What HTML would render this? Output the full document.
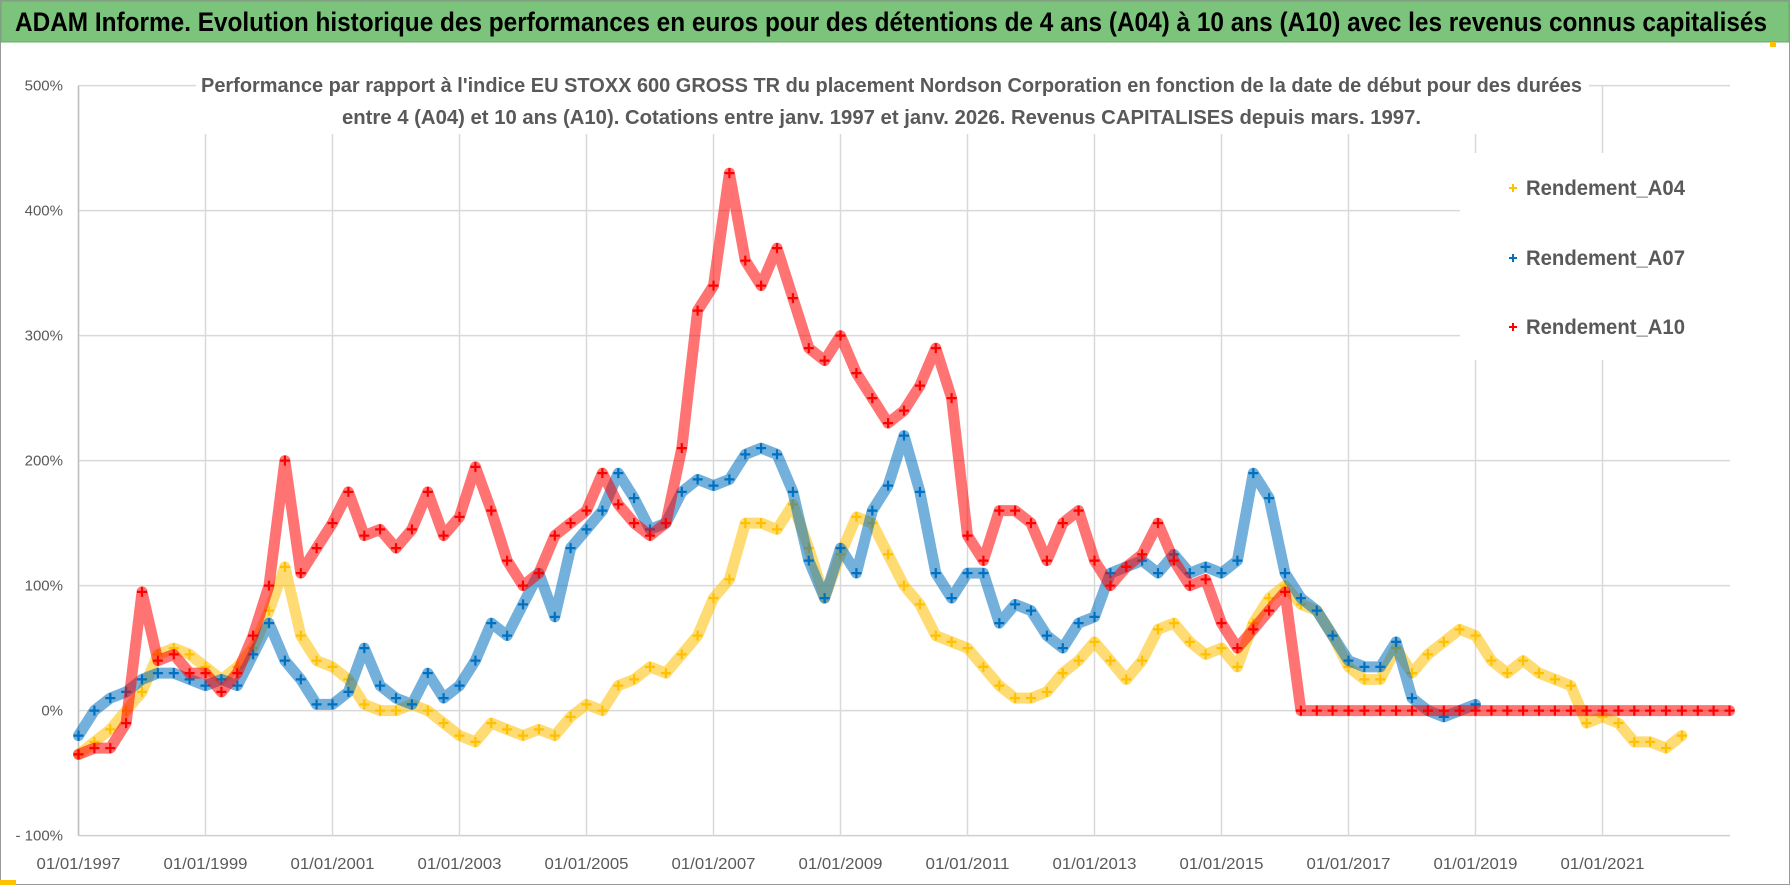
<!DOCTYPE html>
<html><head><meta charset="utf-8"><style>
html,body{margin:0;padding:0;background:#fff;}
svg{display:block;font-family:"Liberation Sans",sans-serif;}
</style></head><body>
<svg id="chart" width="1790" height="886" viewBox="0 0 1790 886" xmlns="http://www.w3.org/2000/svg">
<rect x="0" y="0" width="1790" height="886" fill="#fff"/>
<rect x="0.5" y="0.5" width="1789" height="884" fill="none" stroke="#9a9a9a"/>
<rect x="1" y="1" width="1788" height="41" fill="#7cc47c" stroke="#6aa86a"/>
<text x="15" y="31" font-size="27" font-weight="bold" fill="#000" textLength="1752" lengthAdjust="spacingAndGlyphs">ADAM Informe. Evolution historique des performances en euros pour des détentions de 4 ans (A04) à 10 ans (A10) avec les revenus connus capitalisés</text>
<rect x="0" y="880" width="16" height="5" fill="#ffc000"/>
<rect x="1770" y="42" width="6" height="5" fill="#ffc000"/>
<g id="grid"></g>
<g id="series"></g>
<rect x="196" y="60" width="1393" height="74" fill="#fff"/>
<text x="201" y="92" font-size="20" font-weight="bold" fill="#595959" textLength="1381" lengthAdjust="spacingAndGlyphs">Performance par rapport à l'indice EU STOXX 600 GROSS TR  du placement Nordson Corporation en fonction de la date de début pour des durées</text>
<text x="342" y="124" font-size="20" font-weight="bold" fill="#595959" textLength="1079" lengthAdjust="spacingAndGlyphs">entre 4 (A04) et 10 ans (A10). Cotations entre janv. 1997 et janv. 2026. Revenus CAPITALISES depuis mars. 1997.</text>
<g>
<rect x="1460" y="153" width="272" height="207" fill="#fff"/>
<g><path d="M1509 188h8M1513 184v8" stroke="#ffc000" stroke-width="2"/><text x="1526" y="195" font-size="21" font-weight="bold" fill="#595959" textLength="159" lengthAdjust="spacingAndGlyphs">Rendement_A04</text></g>
<g><path d="M1509 258h8M1513 254v8" stroke="#0070c0" stroke-width="2"/><text x="1526" y="265" font-size="21" font-weight="bold" fill="#595959" textLength="159" lengthAdjust="spacingAndGlyphs">Rendement_A07</text></g>
<g><path d="M1509 327h8M1513 323v8" stroke="#ff0000" stroke-width="2"/><text x="1526" y="334" font-size="21" font-weight="bold" fill="#595959" textLength="159" lengthAdjust="spacingAndGlyphs">Rendement_A10</text></g>
</g>
<g id="axes"></g>
</svg>
<script>
// ---- data (quarterly, starting 1997.0) ----
const yTicks = [-100, 0, 100, 200, 300, 400, 500];
const yTickLabels = ["- 100%", "0%", "100%", "200%", "300%", "400%", "500%"];
const xTickYears = [1997, 1999, 2001, 2003, 2005, 2007, 2009, 2011, 2013, 2015, 2017, 2019, 2021];
const xTickLabels = ["01/01/1997","01/01/1999","01/01/2001","01/01/2003","01/01/2005","01/01/2007","01/01/2009","01/01/2011","01/01/2013","01/01/2015","01/01/2017","01/01/2019","01/01/2021"];
const startYear = 1997;
const stepYears = 0.25;
const seriesNames = ["Rendement_A04", "Rendement_A07", "Rendement_A10"];
const valuesA04 = [
 -35,-25,-15,0, 15,45,50,45, 35,25,35,50, 80,115,60,40, 35,25,5,0, 0,5,0,-10,
 -20,-25,-10,-15, -20,-15,-20,-5, 5,0,20,25, 35,30,45,60, 90,105,150,150,
 145,165,130,90, 125,155,150,125, 100,85,60,55, 50,35,20,10, 10,15,30,40,
 55,40,25,40, 65,70,55,45, 50,35,70,90, 100,85,80,60, 35,25,25,50,
 30,45,55,65, 60,40,30,40, 30,25,20,-10, -5,-10,-25,-25, -30,-20];
const valuesA07 = [
 -20,0,10,15, 25,30,30,25, 20,25,20,45, 70,40,25,5, 5,15,50,20, 10,5,30,10,
 20,40,70,60, 85,110,75,130, 145,160,190,170, 145,150,175,185, 180,185,205,210,
 205,175,120,90, 130,110,160,180, 220,175,110,90, 110,110,70,85, 80,60,50,70,
 75,110,115,120, 110,125,110,115, 110,120,190,170, 110,90,80,60, 40,35,35,55,
 10,0,-5,0, 5];
const valuesA10 = [
 -35,-30,-30,-10, 95,40,45,30, 30,15,30,60, 100,200,110,130, 150,175,140,145,
 130,145,175,140, 155,195,160,120, 100,110,140,150, 160,190,165,150,
 140,150,210,320, 340,430,360,340, 370,330,290,280, 300,270,250,230,
 240,260,290,250, 140,120,160,160, 150,120,150,160, 120,100,115,125,
 150,120,100,105, 70,50,65,80, 95,0,0,0, 0,0,0,0, 0,0,0,0, 0,0,0,0,
 0,0,0,0, 0,0,0,0, 0,0,0,0, 0];
const seriesColors = ["#ffc000", "#0070c0", "#ff0000"];

// ---- scales ----
const X0 = 78.5, PX_PER_YEAR = 63.5, Y0 = 710.6, PX_PER_PCT = 1.25;
const xRight = 1730;
function xScale(year){ return X0 + (year - startYear) * PX_PER_YEAR; }
function yScale(v){ return Y0 - v * PX_PER_PCT; }
const NS = "http://www.w3.org/2000/svg";
function mk(tag, attrs, parent){ const e = document.createElementNS(NS, tag); for (const k in attrs) e.setAttribute(k, attrs[k]); parent.appendChild(e); return e; }

const grid = document.getElementById("grid");
const axes = document.getElementById("axes");
yTicks.forEach((t, i) => {
  const y = yScale(t);
  const ln = mk("line", {x1: X0, x2: xRight, y1: y, y2: y, stroke: t === -100 ? "#cfcfcf" : "#d9d9d9", "stroke-width": 1.5}, grid);
  
  
  const tx = mk("text", {x: 63, y: y + 5, "font-size": 15, fill: "#595959", "text-anchor": "end"}, axes);
  tx.textContent = yTickLabels[i];
  
  
});
xTickYears.forEach((yr, i) => {
  const x = xScale(yr);
  const ln = mk("line", {x1: x, x2: x, y1: yScale(500), y2: yScale(-100), stroke: "#d9d9d9", "stroke-width": 1.5}, grid);
  
  
  const tx = mk("text", {x: x, y: 869, "font-size": 16, fill: "#595959", "text-anchor": "middle", textLength: 84, lengthAdjust: "spacingAndGlyphs"}, axes);
  tx.textContent = xTickLabels[i];
  
  
});
const axL = mk("line", {x1: X0, x2: X0, y1: yScale(500), y2: yScale(-100), stroke: "#bfbfbf", "stroke-width": 1.5}, grid);



const layer = document.getElementById("series");
[valuesA04, valuesA07, valuesA10].forEach((vals, si) => {
  const g = mk("g", {}, layer);
  
  
  const pts = vals.map((v, i) => xScale(startYear + i * stepYears).toFixed(1) + "," + yScale(v).toFixed(1));
  const band = mk("polyline", {points: pts.join(" "), fill: "none", stroke: seriesColors[si], "stroke-width": 11, "stroke-opacity": 0.55, "stroke-linejoin": "round", "stroke-linecap": "round"}, g);
  
  
  let d = "";
  vals.forEach((v, i) => {
    const x = xScale(startYear + i * stepYears), y = yScale(v);
    d += "M" + (x - 5).toFixed(1) + " " + y.toFixed(1) + "h10M" + x.toFixed(1) + " " + (y - 5).toFixed(1) + "v10";
  });
  const marks = mk("path", {d: d, stroke: seriesColors[si], "stroke-width": 2.2, fill: "none"}, g);
  
  
});
</script>
</body></html>
